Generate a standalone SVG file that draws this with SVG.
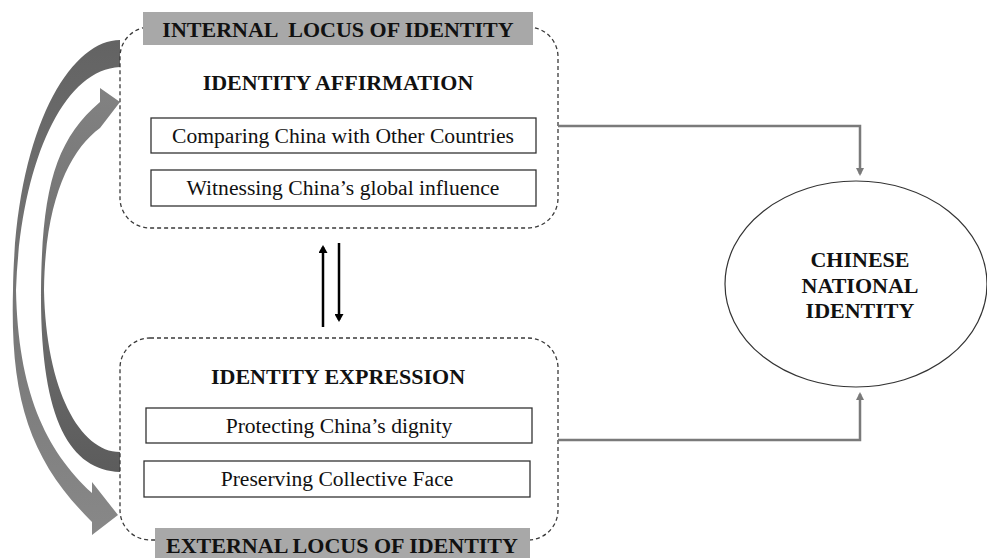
<svg xmlns="http://www.w3.org/2000/svg" width="987" height="558" viewBox="0 0 987 558">
<style>
.dash{fill:none;stroke:#3a3a3a;stroke-width:1.3;stroke-dasharray:4 3}
.box{fill:#fff;stroke:#333;stroke-width:1.3}
.lbl{fill:#a8a8a8}
.b{font-family:"Liberation Serif","Times New Roman",serif;font-weight:bold;font-size:22px;fill:#111;text-anchor:middle;white-space:pre}
.r{font-family:"Liberation Serif","Times New Roman",serif;font-size:21.6px;fill:#111;text-anchor:middle}
.gc{fill:none;stroke:#7a7a7a;stroke-width:2.5}
.bc{fill:none;stroke:#000;stroke-width:2.5}
</style>
<defs>
<marker id="ga" markerWidth="8" markerHeight="8" refX="6" refY="4" orient="auto" markerUnits="userSpaceOnUse" viewBox="0 0 8 8"><path d="M0,0 L8,4 L0,8 Z" fill="#7a7a7a"/></marker>
<marker id="ba" markerWidth="8" markerHeight="9" refX="6" refY="4.5" orient="auto" markerUnits="userSpaceOnUse" viewBox="0 0 8 9"><path d="M0,0 L8,4.5 L0,9 Z" fill="#000"/></marker>
<linearGradient id="gA" x1="0" y1="0" x2="0" y2="1"><stop offset="0" stop-color="#636363"/><stop offset="1" stop-color="#888888"/></linearGradient>
<linearGradient id="gB" x1="0" y1="1" x2="0" y2="0"><stop offset="0" stop-color="#5c5c5c"/><stop offset="1" stop-color="#828282"/></linearGradient>
</defs>

<g id="loop-arrows">
<path d="M120,40 C70,40 15,130 13,290 C10,400 30,460 92,522 L92,535 L118,515 L92,482 L92,493 C45,450 18,390 16,290 C20,170 60,70 120,67 Z" fill="url(#gA)"/>
<path d="M120,472 C70,470 40,420 41,290 C42,190 55,140 100,102 L100,88 L120,102 L100,128 C70,150 45,200 44,290 C46,390 80,452 120,452 Z" fill="url(#gB)"/>
</g>

<g id="affirmation">
<rect class="dash" x="120" y="27" width="438" height="201" rx="30"/>
<rect class="lbl" x="143" y="12" width="390" height="33"/>
<text class="b" x="338" y="37" xml:space="preserve">INTERNAL  LOCUS OF IDENTITY</text>
<text class="b" x="338" y="90">IDENTITY AFFIRMATION</text>
<rect class="box" x="151" y="118" width="385" height="35"/>
<text class="r" x="343" y="143">Comparing China with Other Countries</text>
<rect class="box" x="151" y="170" width="385" height="36"/>
<text class="r" x="343" y="195">Witnessing China’s global influence</text>
</g>

<g id="expression">
<rect class="dash" x="120" y="338" width="438" height="202" rx="30"/>
<text class="b" x="338" y="384">IDENTITY EXPRESSION</text>
<rect class="box" x="146" y="408" width="386" height="35"/>
<text class="r" x="339" y="433">Protecting China’s dignity</text>
<rect class="box" x="144" y="461" width="386" height="36"/>
<text class="r" x="337" y="486">Preserving Collective Face</text>
<rect class="lbl" x="155" y="528" width="375" height="32"/>
<text class="b" x="342" y="553">EXTERNAL LOCUS OF IDENTITY</text>
</g>

<g id="national-identity">
<ellipse cx="856" cy="284" rx="131" ry="103" fill="#fff" stroke="#333" stroke-width="1.2"/>
<text class="b" x="860" y="267">CHINESE</text>
<text class="b" x="860" y="293">NATIONAL</text>
<text class="b" x="860" y="318">IDENTITY</text>
</g>

<g id="connectors">
<path class="gc" d="M558,126 H860 V174" marker-end="url(#ga)"/>
<path class="gc" d="M558,440 H860 V394" marker-end="url(#ga)"/>
<path class="bc" d="M323,327 V247" marker-end="url(#ba)"/>
<path class="bc" d="M339,243 V320" marker-end="url(#ba)"/>
</g>
</svg>
